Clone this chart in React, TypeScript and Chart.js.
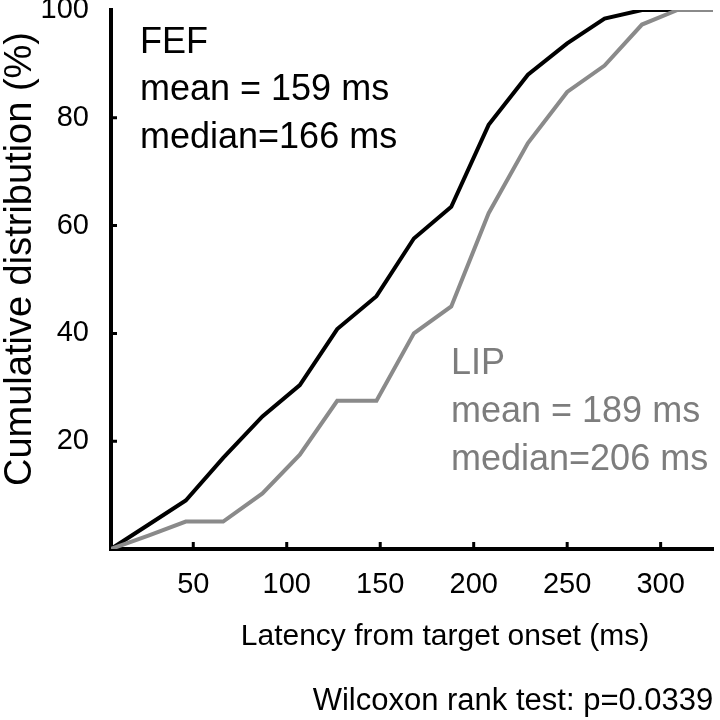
import React, { useEffect, useRef } from "react";
import { Chart, registerables } from "chart.js";

Chart.register(...registerables);

// ---- data ----
const latencyBins = [6, 26, 46, 66, 87, 107, 127, 148, 168, 188, 208, 229, 250, 270, 290, 309, 328];
const fefCumulative = [0, 4.5, 9.0, 16.9, 24.6, 30.4, 40.8, 46.9, 57.6, 63.5, 78.7, 88.0, 93.8, 98.4, 100, 100, 100];
const lipCumulative = [0, 2.5, 5.1, 5.1, 10.3, 17.5, 27.5, 27.5, 40.0, 45.0, 62.3, 75.3, 84.8, 89.7, 97.3, 100, 100];
const xTickValues = [50, 100, 150, 200, 250, 300];
const yTickValues = [20, 40, 60, 80, 100];
const xRange = [6, 328];
const yRange = [0, 100];
const fefText = ["FEF", "mean = 159 ms", "median=166 ms"];
const lipText = ["LIP", "mean = 189 ms", "median=206 ms"];
const xTitle = "Latency from target onset (ms)";
const yTitle = "Cumulative distribution (%)";
const testNote = "Wilcoxon rank test: p=0.0339";

const FONT = '"Liberation Sans", Arial, Helvetica, sans-serif';
const BLACK = "#000000";
const GRAY_LINE = "#8a8a8a";
const GRAY_TEXT = "#7d7d7d";

const tickMarksPlugin = {
  id: "innerTicks",
  beforeDatasetsDraw(chart: any) {
    const { ctx, chartArea } = chart;
    const xs = chart.scales.x;
    const ys = chart.scales.y;
    ctx.save();
    ctx.strokeStyle = BLACK;
    ctx.lineWidth = 3;
    ctx.beginPath();
    xs.ticks.forEach((t: any) => {
      if (t.value <= xs.min || t.value >= xs.max) return;
      const px = xs.getPixelForValue(t.value);
      ctx.moveTo(px, chartArea.bottom);
      ctx.lineTo(px, chartArea.bottom - 7);
    });
    ys.ticks.forEach((t: any) => {
      if (t.value <= ys.min || t.value >= ys.max) return;
      const py = ys.getPixelForValue(t.value);
      ctx.moveTo(chartArea.left, py);
      ctx.lineTo(chartArea.left + 6, py);
    });
    ctx.stroke();
    ctx.restore();
  },
};

const textPlugin = {
  id: "textNotes",
  afterDraw(chart: any) {
    const { ctx } = chart;
    ctx.save();
    ctx.textBaseline = "alphabetic";
    ctx.textAlign = "left";

    ctx.fillStyle = BLACK;
    ctx.font = `36px ${FONT}`;
    const fefY = [53, 100, 148];
    fefText.forEach((t, i) => ctx.fillText(t, 140, fefY[i]));

    ctx.fillStyle = GRAY_TEXT;
    const lipY = [374, 422, 470];
    lipText.forEach((t, i) => ctx.fillText(t, 451, lipY[i]));

    ctx.fillStyle = BLACK;
    ctx.textAlign = "center";
    ctx.font = `30px ${FONT}`;
    ctx.fillText(xTitle, 445, 645);
    ctx.font = `31px ${FONT}`;
    ctx.fillText(testNote, 513, 710);

    ctx.save();
    ctx.translate(31, 259);
    ctx.rotate(-Math.PI / 2);
    ctx.font = `38px ${FONT}`;
    ctx.fillText(yTitle, 0, 0);
    ctx.restore();

    ctx.restore();
  },
};

export default function App() {
  const canvasRef = useRef<HTMLCanvasElement | null>(null);

  useEffect(() => {
    const canvas = canvasRef.current;
    if (!canvas) return;
    const chart = new Chart(canvas, {
      type: "line",
      data: {
        datasets: [
          {
            label: "LIP",
            data: latencyBins.map((x, i) => ({ x, y: lipCumulative[i] })),
            borderColor: GRAY_LINE,
            borderWidth: 4,
            pointRadius: 0,
            tension: 0,
            fill: false,
          },
          {
            label: "FEF",
            data: latencyBins.map((x, i) => ({ x, y: fefCumulative[i] })),
            borderColor: BLACK,
            borderWidth: 4,
            pointRadius: 0,
            tension: 0,
            fill: false,
          },
        ],
      },
      options: {
        responsive: false,
        animation: false,
        devicePixelRatio: 1,
        layout: { padding: { left: 0, top: 10, right: 7, bottom: 0 } },
        plugins: {
          legend: { display: false },
          tooltip: { enabled: false },
          title: { display: false },
        },
        scales: {
          x: {
            type: "linear",
            min: xRange[0],
            max: xRange[1],
            afterBuildTicks: (scale: any) => {
              scale.ticks = xTickValues.map((v) => ({ value: v }));
            },
            afterFit: (scale: any) => {
              scale.height = 171;
              scale.paddingLeft = 0;
              scale.paddingRight = 0;
            },
            grid: { drawOnChartArea: false, drawTicks: false },
            border: { display: true, color: BLACK, width: 4 },
            ticks: {
              color: BLACK,
              padding: 19,
              maxRotation: 0,
              autoSkip: false,
              font: { family: FONT, size: 29 },
            },
          },
          y: {
            type: "linear",
            min: yRange[0],
            max: yRange[1],
            afterBuildTicks: (scale: any) => {
              scale.ticks = yTickValues.map((v) => ({ value: v }));
            },
            afterFit: (scale: any) => {
              scale.width = 111;
              scale.paddingTop = 0;
              scale.paddingBottom = 0;
            },
            grid: { drawOnChartArea: false, drawTicks: false },
            border: { display: true, color: BLACK, width: 4 },
            ticks: {
              color: BLACK,
              padding: 22,
              autoSkip: false,
              font: { family: FONT, size: 29 },
            },
          },
        },
      },
      plugins: [tickMarksPlugin, textPlugin],
    });
    return () => chart.destroy();
  }, []);

  return (
    <div style={{ position: "absolute", left: 0, top: 0, width: 720, height: 720, background: "#fff" }}>
      <canvas ref={canvasRef} width={720} height={720} style={{ width: "720px", height: "720px", display: "block" }} />
    </div>
  );
}
